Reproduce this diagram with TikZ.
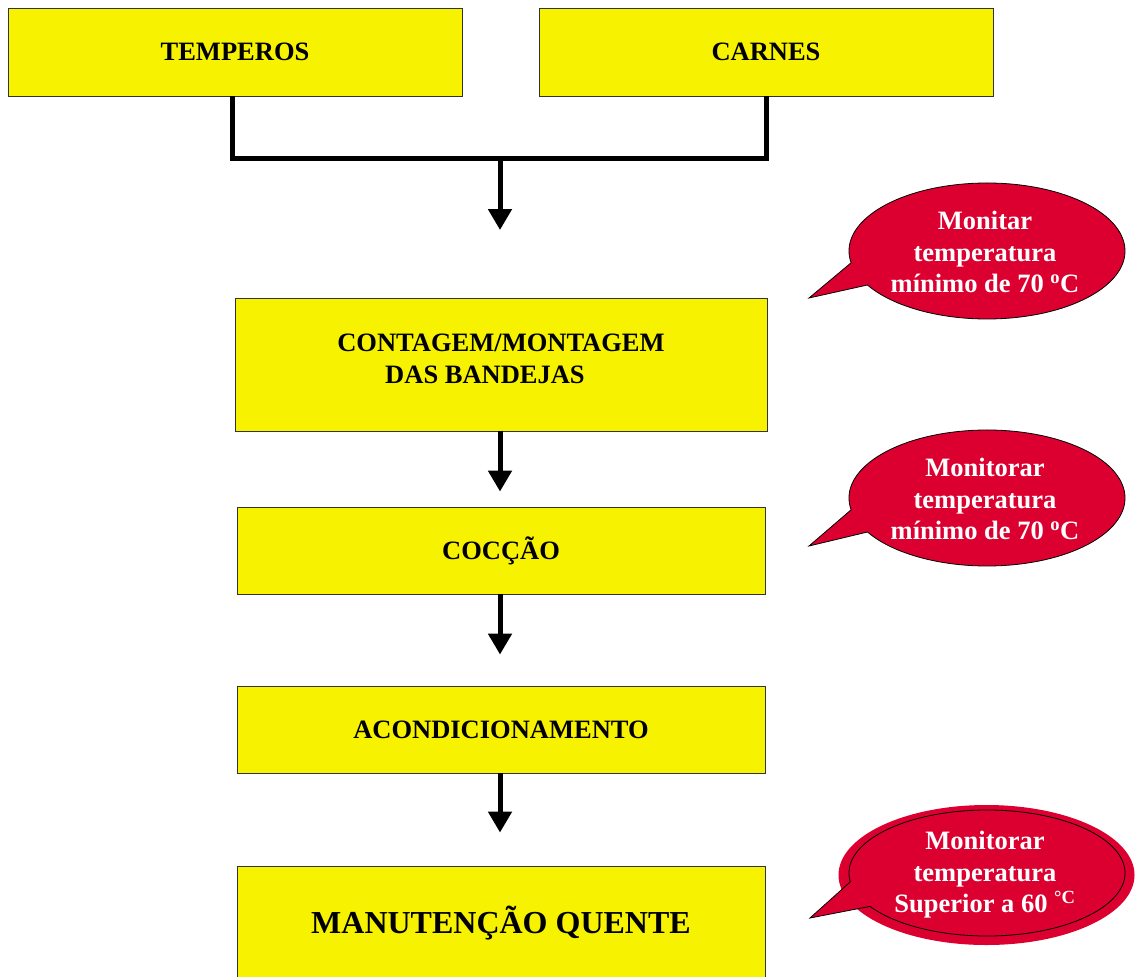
\documentclass[tikz,border=0pt]{standalone}
\usepackage{fontspec}
\setmainfont{Liberation Serif}
\usetikzlibrary{arrows.meta,calc}
\definecolor{boxyellow}{RGB}{247,242,0}
\definecolor{callred}{RGB}{220,0,48}
\begin{document}
\begin{tikzpicture}[x=1pt,y=1pt,
  stepbox/.style={draw=black!80, line width=0.9pt, fill=boxyellow, font=\bfseries\fontsize{26.5}{32}\selectfont, align=center, inner sep=0pt},
  conn/.style={line width=5pt},
  arr/.style={line width=5pt, -{Triangle[width=23pt,length=21pt]}},
  bubble/.style={fill=callred, draw=black, line width=0.8pt},
  bubtext/.style={text=white, font=\bfseries\fontsize{26.5}{31.5}\selectfont, align=center, inner sep=0pt}]
\useasboundingbox (0,0) rectangle (1135,-977);

% process boxes
\node[stepbox, minimum width=454pt, minimum height=88pt] (temp) at (235,-52) {TEMPEROS};
\node[stepbox, minimum width=454pt, minimum height=88pt] (carnes) at (766,-52) {CARNES};
\node[stepbox, minimum width=532pt, minimum height=133pt] (cont) at (501,-364.5) {CONTAGEM/MONTAGEM\\DAS BANDEJAS\rule{32pt}{0pt}\\[-20pt]\rule{0pt}{0pt}};
\node[stepbox, minimum width=528pt, minimum height=87pt] (coc) at (501,-550.5) {COCÇÃO};
\node[stepbox, minimum width=528pt, minimum height=87pt] (aco) at (501,-729.5) {ACONDICIONAMENTO};
\node[stepbox, minimum width=528pt, minimum height=114pt, font=\bfseries\fontsize{32}{38}\selectfont] (man) at (501,-923) {MANUTENÇÃO QUENTE};

% connectors
\coordinate (j) at (500,-158);
\coordinate (a1) at (500,-230);
\draw[conn] ([xshift=-3pt]temp.south) -- ([xshift=-3pt]temp.south |- j) -- (carnes.south |- j) -- (carnes.south);
\draw[arr] (j) -- (a1);
\draw[arr] ([xshift=-1pt]cont.south) -- ([xshift=-1pt,yshift=15pt]coc.north);
\draw[arr] ([xshift=-1pt]coc.south) -- ([xshift=-1pt,yshift=31pt]aco.north);
\draw[arr] ([xshift=-1pt]aco.south) -- ([xshift=-1pt,yshift=33pt]man.north);

% callout 1
\draw[bubble] (809,-298) -- ($(987,-251)+(190:138 and 68)$)
  arc[start angle=190, end angle=-150, x radius=138, y radius=68] -- cycle;
\node[bubtext] (t1) at (985,-252) {Monitar\\temperatura\\mínimo de 70 \textsuperscript{o}C};

% callout 2
\draw[bubble] (809,-546) -- ($(987,-498)+(190:138 and 68)$)
  arc[start angle=190, end angle=-150, x radius=138, y radius=68] -- cycle;
\node[bubtext] (t2) at (985,-499) {Monitorar\\temperatura\\mínimo de 70 \textsuperscript{o}C};

% callout 3 (with shadow)
\fill[callred] (986.5,-875) ellipse[x radius=148, y radius=70];
\draw[bubble] (810,-918) -- ($(987,-873)+(188:138 and 63)$)
  arc[start angle=188, end angle=-148, x radius=138, y radius=63] -- cycle;
\node[bubtext] (t3) at (985,-875) {Monitorar\\temperatura\\Superior a 60 \textsuperscript{°C}};
\end{tikzpicture}
\end{document}
